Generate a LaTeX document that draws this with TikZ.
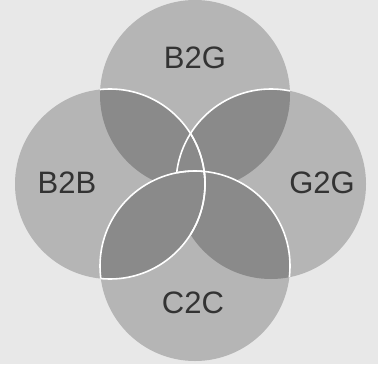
\documentclass[tikz,border=0pt]{standalone}
\usepackage{fontspec}
\setmainfont{Liberation Sans}
\usepackage{xcolor}
\usepackage{tikz}
\tikzset{every node/.append style={font=\fontsize{15.5}{18}\selectfont, text=black!80}}
\tikzset{ring/.style={draw=white, line width=0.8pt}}
\newcommand{\circr}{47.5pt}

\begin{document}
\begin{tikzpicture}[x=0.5pt, y=0.5pt]
    \fill[black!9] (0,0) rectangle (378,364);
    \coordinate (t) at (195,269);
    \coordinate (l) at (110,180);
    \coordinate (r) at (271,180);
    \coordinate (b) at (195,98);
    \foreach \c in {t,l,r,b}
        \fill[black!29] (\c) circle (\circr);
    % overlaps
    \foreach \p/\q in {t/l, t/r, t/b, l/b, r/b, l/r} {
        \begin{scope}
            \clip (\p) circle (\circr);
            \fill[black!46] (\q) circle (\circr);
        \end{scope}
    }
    % white arcs inside the other circles
    \foreach \p/\q in {t/l, b/l, l/b, r/b, r/l} {
        \begin{scope}
            \clip (\p) circle (\circr);
            \draw[ring] (\q) circle (\circr);
        \end{scope}
    }
    \begin{scope}
        \clip (t) circle (\circr);
        \clip (0,0) -- (0,364) -- (378,364) -- (378,0) -- cycle (b) circle (\circr);
        \draw[ring] (r) circle (\circr);
    \end{scope}
    \node (b2g) at (195,306) {B2G};
    \node (b2b) at (67,181) {B2B};
    \node (g2g) at (322,181) {G2G};
    \node (c2c) at (193,61) {C2C};
\end{tikzpicture}
\end{document}
